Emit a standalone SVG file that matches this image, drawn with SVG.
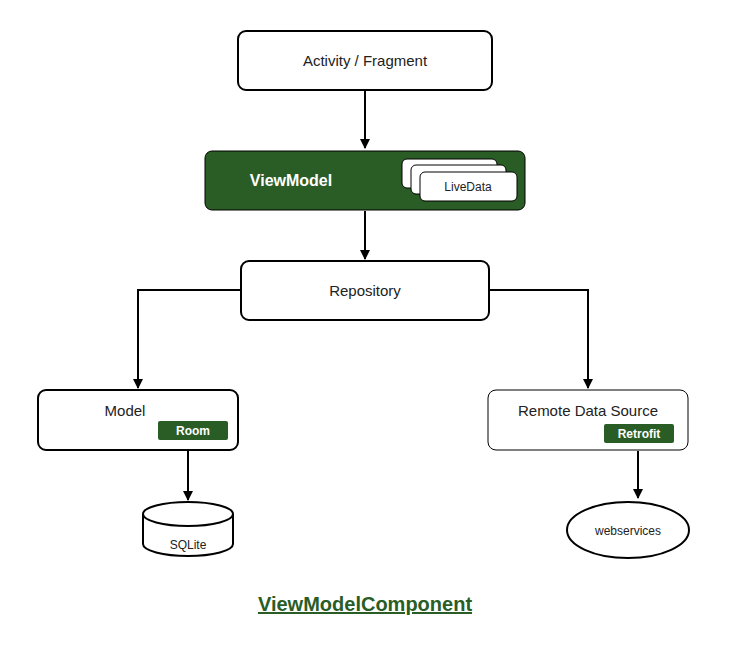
<svg xmlns="http://www.w3.org/2000/svg" width="730" height="650" viewBox="0 0 730 650">
<defs>
<marker id="a" viewBox="0 0 10 10" refX="9" refY="5" markerWidth="5" markerHeight="5" orient="auto"><path d="M0,0 L10,5 L0,10 Z" fill="#000"/></marker>
<style>
.n{fill:#fff;stroke:#000;stroke-width:2}
.g{fill:#2a5d25;stroke:#000;stroke-width:1}
.t{font-family:"Liberation Sans",Arial,sans-serif;font-size:15px;fill:#222;text-anchor:middle}
.s{font-family:"Liberation Sans",Arial,sans-serif;font-size:12px;fill:#222;text-anchor:middle}
.w{font-family:"Liberation Sans",Arial,sans-serif;font-size:12px;font-weight:bold;fill:#fff;text-anchor:middle}
.c{fill:none;stroke:#000;stroke-width:2;marker-end:url(#a)}
</style>
</defs>
<rect width="730" height="650" fill="#fff"/>
<g id="connectors">
<path class="c" d="M365,90 V148"/>
<path class="c" d="M365,211 V259"/>
<path class="c" d="M241,290 H138 V388"/>
<path class="c" d="M489,290 H588 V388"/>
<path class="c" d="M188,451 V500"/>
<path class="c" d="M638,451 V498"/>
</g>
<g id="activity"><rect class="n" x="238" y="31" width="254" height="59" rx="8"/><text class="t" x="365" y="66">Activity / Fragment</text></g>
<g id="viewmodel"><rect class="g" x="205" y="151" width="320" height="59" rx="7"/><text x="291" y="186" font-family="Liberation Sans,Arial,sans-serif" font-size="16" font-weight="bold" fill="#fff" text-anchor="middle">ViewModel</text>
<rect x="402" y="159" width="95" height="29" rx="5" fill="#fff" stroke="#000"/>
<rect x="411" y="165" width="95" height="29" rx="5" fill="#fff" stroke="#000"/>
<rect x="420" y="172" width="97" height="29" rx="5" fill="#fff" stroke="#000"/>
<text class="s" x="468" y="191">LiveData</text></g>
<g id="repository"><rect class="n" x="241" y="261" width="248" height="59" rx="8"/><text class="t" x="365" y="296">Repository</text></g>
<g id="model"><rect class="n" x="38" y="390" width="200" height="60" rx="8"/><text class="t" x="125" y="416">Model</text>
<rect x="158" y="421" width="70" height="19" rx="2" fill="#2a5d25"/><text class="w" x="193" y="435">Room</text></g>
<g id="remote"><rect x="488" y="390" width="200" height="60" rx="8" fill="#fff" stroke="#000" stroke-width="1"/><text class="t" x="588" y="416">Remote Data Source</text>
<rect x="604" y="424" width="70" height="19" rx="2" fill="#2a5d25"/><text class="w" x="639" y="438">Retrofit</text></g>
<g id="sqlite"><path class="n" d="M143,514 V544 A45,12 0 0 0 233,544 V514 A45,12 0 0 0 143,514 A45,12 0 0 0 233,514"/><text class="s" x="188" y="549">SQLite</text></g>
<g id="webservices"><ellipse class="n" cx="628" cy="530" rx="61" ry="28"/><text class="s" x="628" y="535">webservices</text></g>
<text x="365" y="611" font-family="Liberation Sans,Arial,sans-serif" font-size="20" font-weight="bold" fill="#2a5d25" text-anchor="middle" text-decoration="underline">ViewModelComponent</text>
</svg>
